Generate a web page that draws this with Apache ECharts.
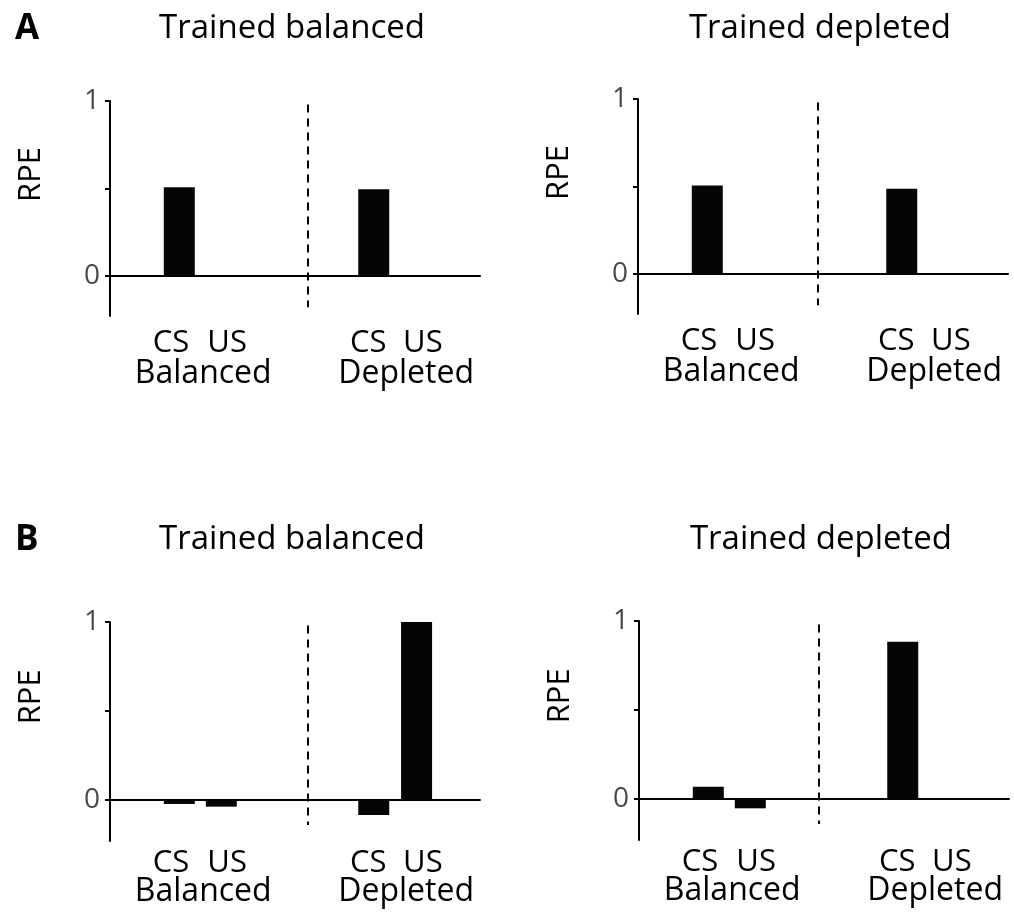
<!DOCTYPE html>
<html>
<head>
<meta charset="utf-8">
<script src="https://cdn.jsdelivr.net/npm/echarts@6/dist/echarts.min.js"></script>
<style>
  html, body { margin: 0; padding: 0; background: #fff; }
  #chart { width: 1014px; height: 918px; }
</style>
</head>
<body>
<div id="chart"></div>
<script>
// ---- data ----
const rowLetters = ['A', 'B'];
const panelTitles = ['Trained balanced', 'Trained depleted'];
const conditions = ['Balanced', 'Depleted'];
const stimuli = ['CS', 'US'];
const yTickValues = [0, 0.5, 1];
const yLabelValues = [0, 1];
const axisName = 'RPE';

// RPE per bar, order: Balanced CS, Balanced US, Depleted CS, Depleted US
const rpeA_trainedBalanced = [0.507, 0, 0.495, 0];
const rpeA_trainedDepleted = [0.505, 0, 0.486, 0];
const rpeB_trainedBalanced = [-0.022, -0.037, -0.084, 1.0];
const rpeB_trainedDepleted = [0.069, -0.052, 0.884, 0];

// ---- layout ----
const FONT = "'Open Sans', 'Noto Sans', sans-serif";
const X_MAX = 8.81;                      // x axis runs 0..X_MAX
const Y_MIN = -0.23, Y_MAX = 1;
const slotX = [1.65, 2.65, 6.28, 7.3];   // bar centres
const stimLabelX = [1.45, 2.79, 6.15, 7.45];
const condLabelX = [2.22, 7.05];
const dividerX = [4.72, 4.27];           // per column
const gridBoxes = [
  { left: 110, top: 101, width: 370, height: 215 },
  { left: 638, top: 99,  width: 370, height: 215 },
  { left: 110, top: 622, width: 370, height: 219 },
  { left: 639, top: 621, width: 370, height: 219 }
];
const rowText = [
  { letterY: 29, stimDy: 67, condDy: 98, dashBottom: -0.18 },
  { letterY: 540, stimDy: 63, condDy: 92, dashBottom: -0.14 }
];

const panelData = [rpeA_trainedBalanced, rpeA_trainedDepleted, rpeB_trainedBalanced, rpeB_trainedDepleted];

const chart = echarts.init(document.getElementById('chart'), null, { renderer: 'canvas' });

const grids = [], xAxes = [], yAxes = [], series = [];
panelData.forEach((vals, i) => {
  const col = i % 2, row = Math.floor(i / 2);
  grids.push(Object.assign({ containLabel: false }, gridBoxes[i]));
  xAxes.push({
    type: 'value', gridIndex: i, min: 0, max: X_MAX,
    axisLine: { show: true, onZero: true, lineStyle: { color: '#000', width: 2 } },
    axisTick: { show: false }, axisLabel: { show: false }, splitLine: { show: false }
  });
  yAxes.push({
    type: 'value', gridIndex: i, min: Y_MIN, max: Y_MAX,
    axisLine: { show: true, onZero: false, lineStyle: { color: '#000', width: 2 } },
    axisTick: { show: true, length: 5, customValues: yTickValues, lineStyle: { color: '#000', width: 2 } },
    axisLabel: { show: true, customValues: yLabelValues, color: '#4a4a4a', fontSize: 28, fontFamily: FONT, margin: 10 },
    splitLine: { show: false }
  });
  series.push({
    type: 'bar', xAxisIndex: i, yAxisIndex: i,
    barWidth: 31,
    itemStyle: { color: '#050505' },
    data: vals.map((v, k) => [slotX[k], v]),
    markLine: {
      silent: true, symbol: 'none', label: { show: false },
      lineStyle: { color: '#000', width: 2, type: [8, 6] },
      data: [[{ coord: [dividerX[col], 0.98] }, { coord: [dividerX[col], rowText[row].dashBottom] }]]
    }
  });
});

chart.setOption({
  animation: false,
  backgroundColor: '#fff',
  grid: grids, xAxis: xAxes, yAxis: yAxes, series: series
});

// text: panel letters, titles, axis names, category labels
const graphics = [];
rowLetters.forEach((letter, row) => {
  graphics.push({
    type: 'text', x: 15, y: rowText[row].letterY,
    style: { text: letter, font: `bold 35px ${FONT}`, fill: '#000', textAlign: 'left', textVerticalAlign: 'middle' }
  });
});
panelData.forEach((vals, i) => {
  const col = i % 2, row = Math.floor(i / 2);
  const g = gridBoxes[i];
  const zero = chart.convertToPixel({ gridIndex: i }, [0, 0]);
  const mid = chart.convertToPixel({ gridIndex: i }, [0, 0.58]);
  graphics.push({
    type: 'text', x: g.left + g.width / 2 - 3, y: rowText[row].letterY,
    style: { text: panelTitles[col], font: `33px ${FONT}`, fill: '#000', textAlign: 'center', textVerticalAlign: 'middle' }
  });
  graphics.push({
    type: 'text', x: g.left - 79, y: mid[1], rotation: Math.PI / 2,
    style: { text: axisName, font: `31px ${FONT}`, fill: '#000', textAlign: 'center', textVerticalAlign: 'middle' }
  });
  stimLabelX.forEach((sx, k) => {
    const p = chart.convertToPixel({ gridIndex: i }, [sx, 0]);
    graphics.push({
      type: 'text', x: p[0], y: zero[1] + rowText[row].stimDy,
      style: { text: stimuli[k % 2], font: `31px ${FONT}`, fill: '#000', textAlign: 'center', textVerticalAlign: 'middle' }
    });
  });
  condLabelX.forEach((cx, k) => {
    const p = chart.convertToPixel({ gridIndex: i }, [cx, 0]);
    graphics.push({
      type: 'text', x: p[0], y: zero[1] + rowText[row].condDy,
      style: { text: conditions[k], font: `32px ${FONT}`, fill: '#000', textAlign: 'center', textVerticalAlign: 'middle' }
    });
  });
});
chart.setOption({ graphic: graphics });
</script>
</body>
</html>
